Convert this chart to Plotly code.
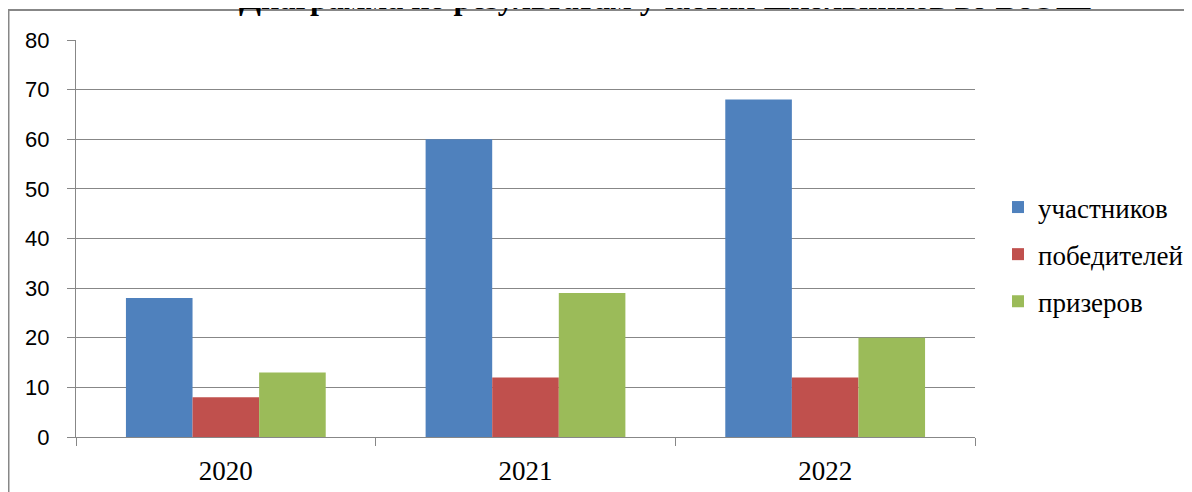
import plotly.graph_objects as go

years = ["2020", "2021", "2022"]
series_names = ["участников", "победителей", "призеров"]
uchastnikov = [28, 60, 68]
pobediteley = [8, 12, 12]
prizerov = [13, 29, 20]
colors = ["#4F81BD", "#C0504D", "#9BBB59"]
title_text = "Диаграмма по результатам участия школьников во ВсОШ"

# the page body adds an 8px offset; the figure is sized to fill the rest of the window
OFF = 8
W, H = 1192 - OFF, 492 - OFF
L, T = 76 - OFF, 40 - OFF
pw, ph = 899, 397
R, B = W - L - pw, H - T - ph

fig = go.Figure()
for i, (name, vals) in enumerate(zip(series_names, [uchastnikov, pobediteley, prizerov])):
    fig.add_trace(go.Bar(x=years, y=vals, name=name, marker=dict(color=colors[i], line=dict(width=0)),
                         legendgroup=name))

def px_x(x):
    # page pixel -> paper coordinate
    return (x - OFF - L) / pw

def px_y(y):
    return (T + ph - (y - OFF)) / ph

grid = "#878787"
fig.update_layout(
    width=W, height=H,
    margin=dict(l=L, r=R, t=T, b=B, autoexpand=False),
    paper_bgcolor="white", plot_bgcolor="white",
    barmode="group", bargap=1/3, bargroupgap=0,
    showlegend=True,
    legend=dict(x=px_x(998), y=px_y(183), xanchor="left", yanchor="top",
                font=dict(family="Liberation Serif", size=27, color="black"),
                tracegroupgap=9, itemwidth=30, bgcolor="rgba(0,0,0,0)"),
    xaxis=dict(showline=True, linecolor=grid, linewidth=1, ticks="outside", ticklen=8,
               tickcolor=grid, tickson="boundaries", showgrid=False,
               tickfont=dict(family="Liberation Serif", size=27, color="black"),
               ticklabelstandoff=10),
    yaxis=dict(range=[0, 80], dtick=10, showline=True, linecolor=grid, linewidth=1,
               ticks="outside", ticklen=8, tickcolor=grid, showgrid=True, gridcolor=grid,
               gridwidth=1, zeroline=False,
               tickfont=dict(family="Liberation Sans", size=22, color="black"),
               ticklabelstandoff=13),
    shapes=[
        dict(type="line", xref="paper", yref="paper", x0=px_x(8), x1=px_x(1210), y0=px_y(10), y1=px_y(10),
             line=dict(color=grid, width=2)),
        dict(type="line", xref="paper", yref="paper", x0=px_x(8.5), x1=px_x(8.5), y0=px_y(10), y1=px_y(510),
             line=dict(color=grid, width=2)),
    ],
    annotations=[
        dict(text="<b>" + title_text + "</b>", xref="paper", yref="paper", x=px_x(665), y=px_y(18),
             xanchor="center", yanchor="bottom", showarrow=False,
             font=dict(family="Liberation Serif", size=32, color="black"))
    ],
)
fig.write_html("out.html")
